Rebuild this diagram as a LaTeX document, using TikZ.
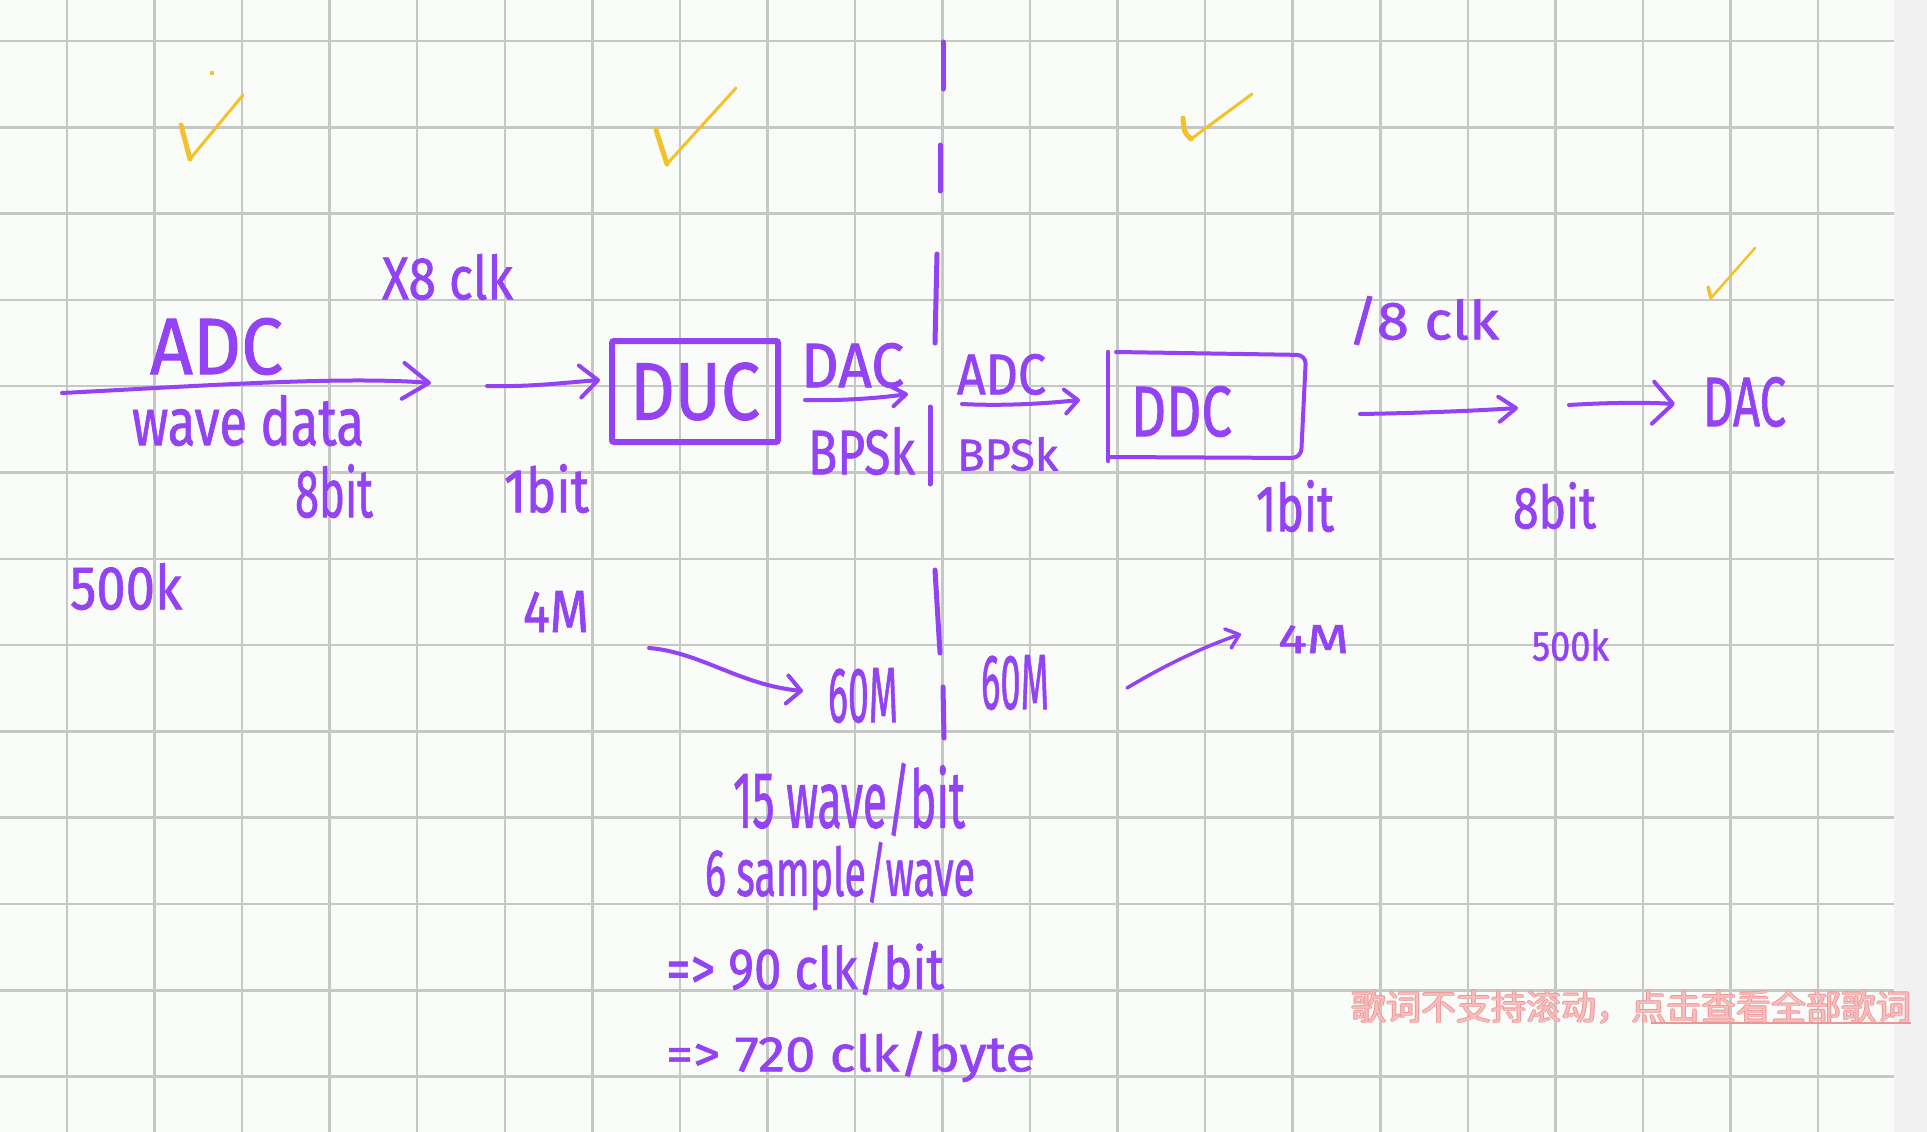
\documentclass[tikz,border=0pt]{standalone}
\usepackage{fontspec}
\usepackage{graphicx}
\usetikzlibrary{arrows.meta}
\newfontfamily\hf{Fira Sans}[FakeBold=1.2]
\newfontfamily\cjk{Noto Sans CJK SC}
\definecolor{pur}{HTML}{9442F5}
\definecolor{chk}{HTML}{F5C12A}
\definecolor{gridc}{HTML}{C6C8C6}
\definecolor{paper}{HTML}{FAFCFA}
\definecolor{stripc}{HTML}{F0F1F0}
\definecolor{wmfill}{HTML}{F9BDBD}
\definecolor{wmline}{HTML}{EB9797}
\newcommand\hw[3]{\resizebox*{#1pt}{#2pt}{\hf #3}}
\newcommand\wmtext{歌词不支持滚动，点击查看全部歌词}
\begin{document}
\begin{tikzpicture}[x=1pt,y=-1pt,
  hand/.style={inner sep=0pt, outer sep=0pt, anchor=north west, text=pur},
  pen/.style={draw=pur, line width=4pt, line cap=round, line join=round},
  tick/.style={draw=chk, line cap=round, line join=round},
  dashseg/.style={draw=pur, line width=5pt, line cap=round},
  gridline/.style={draw=gridc, line width=2.5pt},
  wm/.style={inner sep=0pt, anchor=base west, font=\cjk\fontsize{35pt}{35pt}\selectfont}
]
\useasboundingbox (0,0) rectangle (1927,1132);
\fill[paper] (0,0) rectangle (1927,1132);
% grid
\foreach \k in {0,...,20} \draw[gridline] ({67+87.55*\k},0) -- ({67+87.55*\k},1132);
\foreach \j in {0,...,12} \draw[gridline] (0,{41+86.3*\j}) -- (1894,{41+86.3*\j});
\fill[stripc] (1894,0) rectangle (1927,1132);

% check marks
\draw[tick, line width=5pt] (181,125) -- (190,159);
\draw[tick, line width=3pt] (190,159) -- (243,95);
\fill[chk] (212,73) circle (2.2pt);
\draw[tick, line width=5pt] (656,130) -- (667,164);
\draw[tick, line width=3pt] (667,164) -- (736,88);
\draw[tick, line width=5pt] (1183,118) .. controls (1184,132) .. (1191,139);
\draw[tick, line width=3pt] (1191,139) -- (1252,94);
\draw[tick, line width=3.5pt] (1708,287) -- (1711,298);
\draw[tick, line width=2.5pt] (1711,298) -- (1755,248);

% dashed divider
\draw[dashseg] (943,42) -- (943,89);
\draw[dashseg] (940,145) -- (940,191);
\draw[dashseg] (937,254) -- (935,343);
\draw[dashseg] (930,407) -- (930,484);
\draw[dashseg] (935,570) -- (940,653);
\draw[dashseg] (943,687) -- (944,738);

% boxes
\node[draw=pur, text=pur, line width=6pt, rounded corners=2pt, minimum width=166pt, minimum height=101pt, inner sep=0pt] (duc) at (695,391.5) {\hw{130}{58}{DUC}};
\draw[pen, line width=4pt, rounded corners=9pt] (1116,352) -- (1306,355) -- (1301,458) -- (1109,457);
\draw[pen, line width=4.5pt] (1108,352) -- (1108,461);
\node[hand] (ddc) at (1131,386) {\hw{101}{51}{DDC}};

% labels
\node[hand] (adc1) at (150,318) {\hw{133}{57}{ADC}};
\node[hand] (wave) at (132,395) {\hw{232}{51}{wave data}};
\node[hand] (b8a) at (295,464) {\hw{78}{54}{8bit}};
\node[hand] (x8) at (382,254) {\hw{131}{46}{X8 clk}};
\node[hand] (b1a) at (504,464) {\hw{85}{49}{1bit}};
\node[hand] (dac1) at (801,343) {\hw{103}{45}{DAC}};
\node[hand] (bpsk1) at (808,427) {\hw{107}{48}{BPSk}};
\node[hand] (adc2) at (957,354) {\hw{89}{41}{ADC}};
\node[hand] (bpsk2) at (957,437) {\hw{101}{34}{BPSk}};
\node[hand] (div8) at (1348,296) {\hw{151}{49}{/8 clk}};
\node[hand] (dac2) at (1703,377) {\hw{83}{50}{DAC}};
\node[hand] (b1b) at (1256,480) {\hw{78}{52}{1bit}};
\node[hand] (b8b) at (1513,482) {\hw{83}{47}{8bit}};
\node[hand] (k500a) at (70,563) {\hw{112}{47}{500k}};
\node[hand] (m4a) at (523,591) {\hw{66}{41}{4M}};
\node[hand] (m60a) at (828,668) {\hw{70}{55}{60M}};
\node[hand] (m60b) at (981,655) {\hw{68}{55}{60M}};
\node[hand] (m4b) at (1278,625) {\hw{71}{28}{4M}};
\node[hand] (k500b) at (1532,629) {\hw{77}{32}{500k}};
\node[hand] (n1) at (733,763) {\hw{232}{73}{15 wave/bit}};
\node[hand] (n2) at (705,842) {\hw{270}{68}{6 sample/wave}};
\node[hand] (n3) at (666,942) {\hw{278}{53}{=> 90 clk/bit}};
\node[hand] (n4) at (666,1031) {\hw{369}{51}{=> 720 clk/byte}};

% arrows
\coordinate (a1s) at (62,393);   \coordinate (a1e) at (431,383);
\coordinate (a2s) at (487,386);  \coordinate (a2e) at (600,380);
\coordinate (a3s) at (805,400);  \coordinate (a3e) at (908,394);
\coordinate (a4s) at (962,404);  \coordinate (a4e) at (1080,400);
\coordinate (a5s) at (1360,414); \coordinate (a5e) at (1518,408);
\coordinate (a6s) at (1569,405); \coordinate (a6e) at (1675,404);
\coordinate (a7s) at (649,648);  \coordinate (a7e) at (803,691);
\coordinate (a8s) at (1127,688); \coordinate (a8e) at (1241,634);
\draw[pen, -{Straight Barb[length=26pt,width=36pt,round]}] (a1s) .. controls (200,386) and (340,376) .. (a1e);
\draw[pen, -{Straight Barb[length=18pt,width=32pt,round]}] (a2s) .. controls (530,387) and (560,383) .. (a2e);
\draw[pen, -{Straight Barb[length=14pt,width=20pt,round]}] (a3s) .. controls (840,401) and (880,398) .. (a3e);
\draw[pen, -{Straight Barb[length=13pt,width=24pt,round]}] (a4s) .. controls (1000,406) and (1040,404) .. (a4e);
\draw[pen, -{Straight Barb[length=17pt,width=25pt,round]}] (a5s) .. controls (1420,413) and (1470,411) .. (a5e);
\draw[pen, -{Straight Barb[length=20pt,width=42pt,round]}] (a6s) .. controls (1600,403) and (1640,402) .. (a6e);
\draw[pen, -{Straight Barb[length=14pt,width=28pt,round]}] (a7s) .. controls (700,652) and (740,685) .. (a7e);
\draw[pen, line width=3.5pt, -{Straight Barb[length=12pt,width=20pt,round]}] (a8s) .. controls (1160,668) and (1200,648) .. (a8e);

% watermark
\foreach \dx/\dy in {-0.8/0,0.8/0,0/-0.8,0/0.8}
  \node[wm, text=wmline] at ({1351+\dx},{1020+\dy}) {\wmtext};
\node[wm, text=wmfill] (wmark) at (1351,1020) {\wmtext};
\draw[wmline, line width=1.5pt] (1651,1023) -- (1911,1023);
\end{tikzpicture}
\end{document}
